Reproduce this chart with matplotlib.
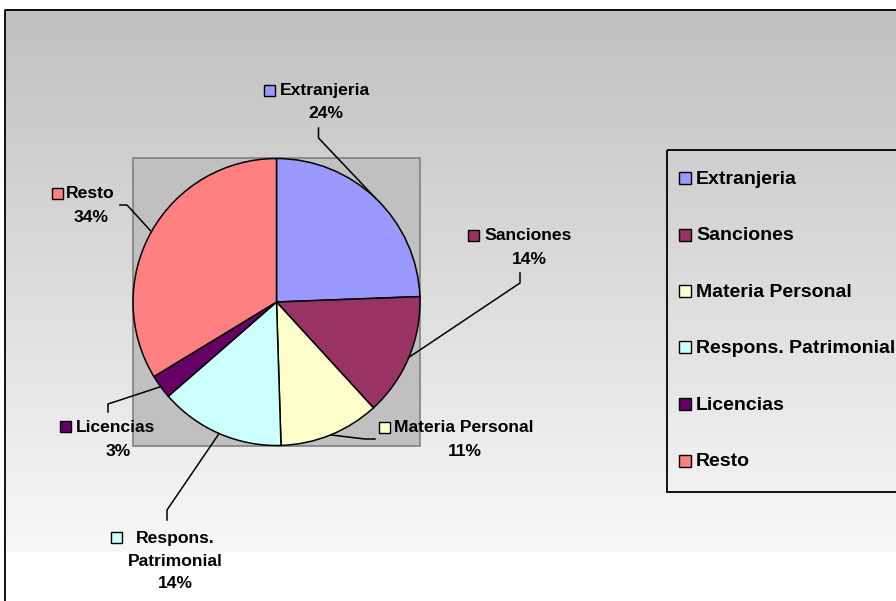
import numpy as np
import matplotlib
matplotlib.use("Agg")
import matplotlib.pyplot as plt
from matplotlib.patches import Rectangle

# ---- data ----
categories = ["Extranjeria", "Sanciones", "Materia Personal",
              "Respons. Patrimonial", "Licencias", "Resto"]
values = [24.4, 13.8, 11.3, 14.1, 2.7, 33.7]
colors = ["#9999FF", "#993366", "#FFFFCC", "#CCFFFF", "#660066", "#FF8080"]

W, H = 896, 601
fig = plt.figure(figsize=(W / 100, H / 100), dpi=100)
FONT = "Liberation Sans"

# ---- background (pixel coords) ----
bg = fig.add_axes([0, 0, 1, 1], zorder=0)
bg.set_xlim(0, W)
bg.set_ylim(H, 0)
bg.axis("off")
ys = np.arange(H)
g = np.where(ys < 9, 1.0,
             np.where(ys < 552, (192 + (248 - 192) * (ys - 9) / (552 - 9)) / 255.0, 1.0))
img = np.repeat(g[:, None], 2, axis=1)
img[:9, :] = 1.0
bg.imshow(np.dstack([img, img, img]), extent=[5, W, H, 0], aspect="auto",
          interpolation="bilinear")
bg.add_patch(Rectangle((0, 0), 5, H, facecolor="white", edgecolor="none"))
bg.add_patch(Rectangle((0, 0), W, 9, facecolor="white", edgecolor="none"))
bg.plot([5, 5, W], [H, 9.5, 9.5], color="black", lw=1.3, solid_capstyle="butt")
# plot area
bg.add_patch(Rectangle((133, 158), 287, 288, facecolor="#c0c0c0",
                       edgecolor="#808080", lw=1.2))

# ---- pie ----
cx, cy, R = 276.5, 302.0, 143.5
pax = fig.add_axes([(cx - R) / W, 1 - (cy + R) / H, 2 * R / W, 2 * R / H], zorder=1)
wedges, _ = pax.pie(values, colors=colors, startangle=90, counterclock=False,
                    radius=1.0, wedgeprops=dict(edgecolor="black", linewidth=1.1))
pax.set_xlim(-1, 1)
pax.set_ylim(-1, 1)
pax.set_aspect("auto")
pax.axis("off")

# ---- overlay for labels/legend ----
ov = fig.add_axes([0, 0, 1, 1], zorder=2)
ov.set_xlim(0, W)
ov.set_ylim(H, 0)
ov.axis("off")
ov.patch.set_alpha(0)

total = sum(values)
pcts = [f"{round(v / total * 100)}%" for v in values]

# layout: (box x, name left x, name y, pct x, pct y, leader anchor points)
layout = [
    (264, 280, 90, 326, 112, [(318.5, 128), (318.5, 138)]),
    (468, 484, 235, 529, 258, [(520, 273), (520, 283)]),
    (379, 394, 427, 465, 450, [(375, 439), (365, 439)]),
    (111, 136, 537, 175, 582, [(167, 520), (167, 510)]),
    (60, 76, 426, 118, 450, [(108, 412), (108, 404)]),
    (52, 66, 193, 91, 216, [(120, 205), (127, 205)]),
]
LFS = 12.6
DY = 1.0
start = 90.0
for i, (name, v, col) in enumerate(zip(categories, values, colors)):
    span = v / total * 360.0
    mid = start - span / 2.0
    start -= span
    ex = cx + R * np.cos(np.radians(mid))
    ey = cy - R * np.sin(np.radians(mid))
    bx, nx, ny, px, py, pts = layout[i]
    xs = [p[0] for p in pts] + [ex]
    yv = [p[1] for p in pts] + [ey]
    ov.plot(xs, yv, color="black", lw=1.1)
    ov.add_patch(Rectangle((bx, ny - 5.5), 11, 11, facecolor=col,
                           edgecolor="black", lw=1.0))
    if name == "Respons. Patrimonial":
        ov.text(nx, ny + DY, "Respons.", ha="left", va="center", fontsize=LFS,
                fontweight="bold", family=FONT)
        ov.text(px, ny + 23 + DY, "Patrimonial", ha="center", va="center",
                fontsize=LFS, fontweight="bold", family=FONT)
    else:
        ov.text(nx, ny + DY, name, ha="left", va="center", fontsize=LFS,
                fontweight="bold", family=FONT)
    ov.text(px, py + DY, pcts[i], ha="center", va="center", fontsize=LFS,
            fontweight="bold", family=FONT)

# ---- legend ----
ov.add_patch(Rectangle((667, 149.5), 240, 342.5, facecolor="none",
                       edgecolor="black", lw=1.3))
leg_y = [178, 234.5, 291, 347, 404, 460.5]
for name, col, y in zip(categories, colors, leg_y):
    ov.add_patch(Rectangle((679, y - 6), 12, 12, facecolor=col,
                           edgecolor="black", lw=1.0))
    ov.text(696, y + 1.5, name, ha="left", va="center", fontsize=14,
            fontweight="bold", family=FONT)

fig.savefig("out.png", dpi=100)
